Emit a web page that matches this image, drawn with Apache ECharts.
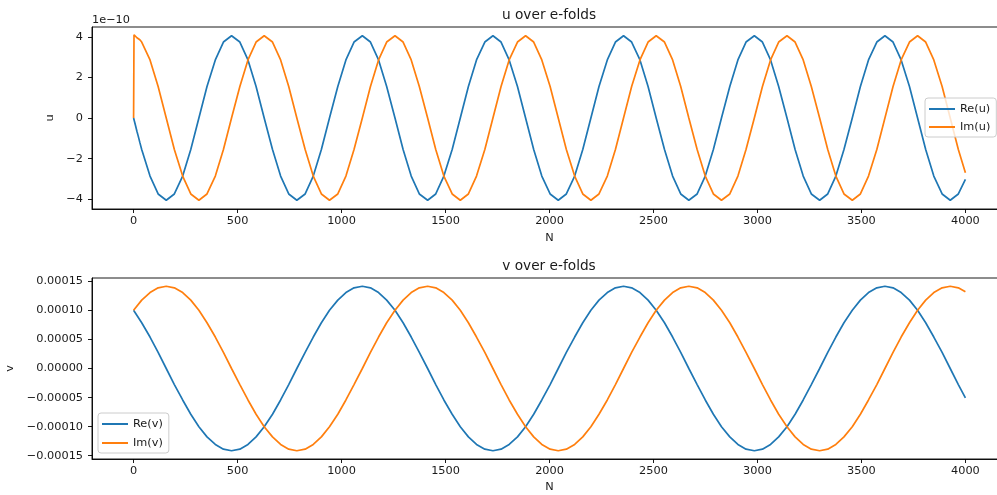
<!DOCTYPE html>
<html>
<head>
<meta charset="utf-8">
<script src="https://cdn.jsdelivr.net/npm/echarts@6/dist/echarts.min.js"></script>
<style>
html,body{margin:0;padding:0;background:#fff;}
#chart{width:997px;height:495px;}
</style>
</head>
<body>
<div id="chart"></div>
<script>
// ---- data ----
// u (values in units of 1e-10)
const N_u = [0,2,8,16,22,30,
  39,79,118,157,196,236,275,314,353,393,432,471,511,550,589,
  628,668,707,746,785,825,864,903,942,982,1021,1060,1100,1139,1178,1217,
  1257,1296,1335,1374,1414,1453,1492,1532,1571,1610,1649,1689,1728,1767,1806,1846,
  1885,1924,1963,2003,2042,2081,2121,2160,2199,2238,2278,2317,2356,2395,2435,2474,
  2513,2553,2592,2631,2670,2710,2749,2788,2827,2867,2906,2945,2985,3024,3063,3102,
  3142,3181,3220,3259,3299,3338,3377,3416,3456,3495,3534,3574,3613,3652,3691,3731,
  3770,3809,3848,3888,3927,3966,4000];
const reU = [0,-0.08,-0.32,-0.65,-0.88,-1.20,
  -1.55,-2.86,-3.74,-4.05,-3.74,-2.86,-1.55,0,1.55,2.86,3.74,4.05,3.74,2.86,1.55,
  0,-1.55,-2.86,-3.74,-4.05,-3.74,-2.86,-1.55,0,1.55,2.86,3.74,4.05,3.74,2.86,1.55,
  0,-1.55,-2.86,-3.74,-4.05,-3.74,-2.86,-1.55,0,1.55,2.86,3.74,4.05,3.74,2.86,1.55,
  0,-1.55,-2.86,-3.74,-4.05,-3.74,-2.86,-1.55,0,1.55,2.86,3.74,4.05,3.74,2.86,1.55,
  0,-1.55,-2.86,-3.74,-4.05,-3.74,-2.86,-1.55,0,1.55,2.86,3.74,4.05,3.74,2.86,1.55,
  0,-1.55,-2.86,-3.74,-4.05,-3.74,-2.86,-1.55,0,1.55,2.86,3.74,4.05,3.74,2.86,1.55,
  0,-1.55,-2.86,-3.74,-4.05,-3.74,-3.02];
const imU = [0,4.10,4.08,3.95,3.97,3.85,
  3.74,2.86,1.55,0,-1.55,-2.86,-3.74,-4.05,-3.74,-2.86,-1.55,0,1.55,2.86,3.74,
  4.05,3.74,2.86,1.55,0,-1.55,-2.86,-3.74,-4.05,-3.74,-2.86,-1.55,0,1.55,2.86,3.74,
  4.05,3.74,2.86,1.55,0,-1.55,-2.86,-3.74,-4.05,-3.74,-2.86,-1.55,0,1.55,2.86,3.74,
  4.05,3.74,2.86,1.55,0,-1.55,-2.86,-3.74,-4.05,-3.74,-2.86,-1.55,0,1.55,2.86,3.74,
  4.05,3.74,2.86,1.55,0,-1.55,-2.86,-3.74,-4.05,-3.74,-2.86,-1.55,0,1.55,2.86,3.74,
  4.05,3.74,2.86,1.55,0,-1.55,-2.86,-3.74,-4.05,-3.74,-2.86,-1.55,0,1.55,2.86,3.74,
  4.05,3.74,2.86,1.55,0,-1.55,-2.70];

// v (values in units of 1e-4)
const N_v = [0,39,79,118,157,196,236,275,314,353,393,432,471,511,550,589,
  628,668,707,746,785,825,864,903,942,982,1021,1060,1100,1139,1178,1217,
  1257,1296,1335,1374,1414,1453,1492,1532,1571,1610,1649,1689,1728,1767,1806,1846,
  1885,1924,1963,2003,2042,2081,2121,2160,2199,2238,2278,2317,2356,2395,2435,2474,
  2513,2553,2592,2631,2670,2710,2749,2788,2827,2867,2906,2945,2985,3024,3063,3102,
  3142,3181,3220,3259,3299,3338,3377,3416,3456,3495,3534,3574,3613,3652,3691,3731,
  3770,3809,3848,3888,3927,3966,4000];
const reV = [1.000,0.786,0.541,0.276,0,-0.276,-0.541,-0.786,-1.000,-1.176,-1.306,-1.387,-1.414,-1.387,-1.306,-1.176,
  -1.000,-0.786,-0.541,-0.276,0,0.276,0.541,0.786,1.000,1.176,1.306,1.387,1.414,1.387,1.306,1.176,
  1.000,0.786,0.541,0.276,0,-0.276,-0.541,-0.786,-1.000,-1.176,-1.306,-1.387,-1.414,-1.387,-1.306,-1.176,
  -1.000,-0.786,-0.541,-0.276,0,0.276,0.541,0.786,1.000,1.176,1.306,1.387,1.414,1.387,1.306,1.176,
  1.000,0.786,0.541,0.276,0,-0.276,-0.541,-0.786,-1.000,-1.176,-1.306,-1.387,-1.414,-1.387,-1.306,-1.176,
  -1.000,-0.786,-0.541,-0.276,0,0.276,0.541,0.786,1.000,1.176,1.306,1.387,1.414,1.387,1.306,1.176,
  1.000,0.786,0.541,0.276,0,-0.276,-0.505];
const imV = [1.000,1.176,1.306,1.387,1.414,1.387,1.306,1.176,1.000,0.786,0.541,0.276,0,-0.276,-0.541,-0.786,
  -1.000,-1.176,-1.306,-1.387,-1.414,-1.387,-1.306,-1.176,-1.000,-0.786,-0.541,-0.276,0,0.276,0.541,0.786,
  1.000,1.176,1.306,1.387,1.414,1.387,1.306,1.176,1.000,0.786,0.541,0.276,0,-0.276,-0.541,-0.786,
  -1.000,-1.176,-1.306,-1.387,-1.414,-1.387,-1.306,-1.176,-1.000,-0.786,-0.541,-0.276,0,0.276,0.541,0.786,
  1.000,1.176,1.306,1.387,1.414,1.387,1.306,1.176,1.000,0.786,0.541,0.276,0,-0.276,-0.541,-0.786,
  -1.000,-1.176,-1.306,-1.387,-1.414,-1.387,-1.306,-1.176,-1.000,-0.786,-0.541,-0.276,0,0.276,0.541,0.786,
  1.000,1.176,1.306,1.387,1.414,1.387,1.321];

const xTicks = [0,500,1000,1500,2000,2500,3000,3500,4000];
const uTicks = [-4,-2,0,2,4];
const vTicks = [-0.00015,-0.0001,-0.00005,0,0.00005,0.0001,0.00015];

// ---- chart ----
const FONT = 'DejaVu Sans';
const TXT = '#1a1a1a';
const BLUE = '#1f77b4', ORANGE = '#ff7f0e';
const minus = s => String(s).replace('-', '\u2212');

const pairs = (xs, ys, scale) => xs.map((x, i) => [x, ys[i] * scale]);

function xAxis(gridIndex, nameGap) {
  return {
    type: 'value', gridIndex, min: -200, max: 4200,
    name: 'N', nameLocation: 'middle', nameGap,
    nameTextStyle: {fontFamily: FONT, fontSize: 11.3, color: TXT},
    axisLine: {show: true, onZero: false, lineStyle: {color: '#000', width: 0.9}},
    axisTick: {show: true, inside: false, length: 4, lineStyle: {color: '#000', width: 0.9}, customValues: xTicks},
    axisLabel: {fontFamily: FONT, fontSize: 11.3, color: TXT, margin: 7, customValues: xTicks,
      formatter: v => String(v)},
    splitLine: {show: false}
  };
}

const chart = echarts.init(document.getElementById('chart'), null, {renderer: 'canvas'});
chart.setOption({
  animation: false,
  backgroundColor: '#fff',
  grid: [
    {left: 92, top: 27, right: -10, height: 182, outerBoundsMode: 'none', containLabel: false, show: true, borderColor: '#000', borderWidth: 0.9, backgroundColor: 'transparent'},
    {left: 92, top: 278, right: -10, height: 181, outerBoundsMode: 'none', containLabel: false, show: true, borderColor: '#000', borderWidth: 0.9, backgroundColor: 'transparent'}
  ],
  xAxis: [xAxis(0, 24), xAxis(1, 23)],
  yAxis: [
    {
      type: 'value', gridIndex: 0, min: -4.48, max: 4.48,
      name: 'u', nameLocation: 'middle', nameGap: 32,
      nameTextStyle: {fontFamily: FONT, fontSize: 11.3, color: TXT},
      axisLine: {show: true, onZero: false, lineStyle: {color: '#000', width: 0.9}},
      axisTick: {show: true, inside: false, length: 4, lineStyle: {color: '#000', width: 0.9}, customValues: uTicks},
      axisLabel: {fontFamily: FONT, fontSize: 11.3, color: TXT, margin: 9, customValues: uTicks,
        formatter: v => minus(v)},
      splitLine: {show: false}
    },
    {
      type: 'value', gridIndex: 1, min: -0.0001556, max: 0.0001556,
      name: 'v', nameLocation: 'middle', nameGap: 74,
      nameTextStyle: {fontFamily: FONT, fontSize: 11.3, color: TXT},
      axisLine: {show: true, onZero: false, lineStyle: {color: '#000', width: 0.9}},
      axisTick: {show: true, inside: false, length: 4, lineStyle: {color: '#000', width: 0.9}, customValues: vTicks},
      axisLabel: {fontFamily: FONT, fontSize: 11.3, color: TXT, margin: 9, customValues: vTicks,
        formatter: v => minus(Number(v).toFixed(5))},
      splitLine: {show: false}
    }
  ],
  legend: [
    {
      data: ['Re(u)', 'Im(u)'], orient: 'vertical', left: 925, top: 98,
      icon: 'rect', itemWidth: 26, itemHeight: 2, itemGap: 4,
      padding: [4, 6, 3, 4],
      backgroundColor: 'rgba(255,255,255,0.8)', borderColor: '#cccccc', borderWidth: 1, borderRadius: 3,
      textStyle: {fontFamily: FONT, fontSize: 11.3, color: TXT, lineHeight: 14}
    },
    {
      data: ['Re(v)', 'Im(v)'], orient: 'vertical', left: 98, top: 413,
      icon: 'rect', itemWidth: 26, itemHeight: 2, itemGap: 5,
      padding: [4, 6, 3, 4],
      backgroundColor: 'rgba(255,255,255,0.8)', borderColor: '#cccccc', borderWidth: 1, borderRadius: 3,
      textStyle: {fontFamily: FONT, fontSize: 11.3, color: TXT, lineHeight: 14}
    }
  ],
  graphic: [
    {type: 'text', x: 549, y: 15, style: {text: 'u over e-folds', fontFamily: FONT, fontSize: 13.7, fill: TXT, textAlign: 'center', textVerticalAlign: 'middle'}},
    {type: 'text', x: 549, y: 266, style: {text: 'v over e-folds', fontFamily: FONT, fontSize: 13.7, fill: TXT, textAlign: 'center', textVerticalAlign: 'middle'}},
    {type: 'text', x: 92, y: 20, style: {text: '1e\u221210', fontFamily: FONT, fontSize: 11.3, fill: TXT, textAlign: 'left', textVerticalAlign: 'middle'}}
  ],
  series: [
    {name: 'Re(u)', type: 'line', xAxisIndex: 0, yAxisIndex: 0, data: pairs(N_u, reU, 1), showSymbol: false, symbol: 'none', lineStyle: {color: BLUE, width: 1.7}, itemStyle: {color: BLUE}},
    {name: 'Im(u)', type: 'line', xAxisIndex: 0, yAxisIndex: 0, data: pairs(N_u, imU, 1), showSymbol: false, symbol: 'none', lineStyle: {color: ORANGE, width: 1.7}, itemStyle: {color: ORANGE}},
    {name: 'Re(v)', type: 'line', xAxisIndex: 1, yAxisIndex: 1, data: pairs(N_v, reV, 1e-4), showSymbol: false, symbol: 'none', lineStyle: {color: BLUE, width: 1.7}, itemStyle: {color: BLUE}},
    {name: 'Im(v)', type: 'line', xAxisIndex: 1, yAxisIndex: 1, data: pairs(N_v, imV, 1e-4), showSymbol: false, symbol: 'none', lineStyle: {color: ORANGE, width: 1.7}, itemStyle: {color: ORANGE}}
  ]
});
</script>
</body>
</html>
